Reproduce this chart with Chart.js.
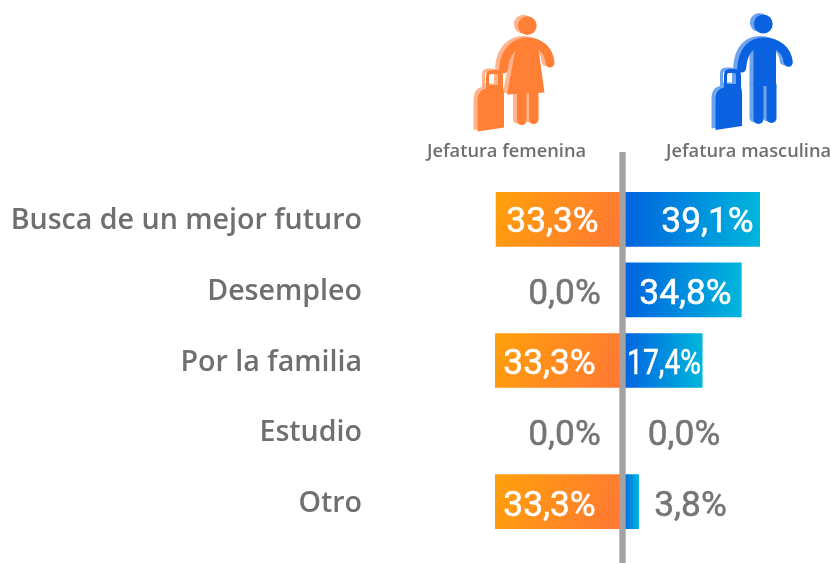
<!DOCTYPE html>
<html><head><meta charset="utf-8">
<script src="https://cdn.jsdelivr.net/npm/chart.js@4"></script>
<style>
html,body{margin:0;padding:0;background:#fff;width:831px;height:563px;overflow:hidden}
#wrap{position:relative;width:831px;height:563px}
canvas{position:absolute;left:0;top:0}
svg{position:absolute;left:0;top:0}
.head{position:absolute;font:600 18.25px "Open Sans",sans-serif;color:#6f6f6f;white-space:nowrap;line-height:20px}
</style></head><body>
<div id="wrap">
<canvas id="c" width="831" height="563"></canvas>
<svg width="831" height="163" viewBox="0 0 831 163">
<defs>
<g id="woman">
<circle cx="527.3" cy="25.7" r="9.4"/>
<path d="M503.5 69 C505 50 516 42 527 42 C540 42 549 50 550 63" fill="none" stroke="currentColor" stroke-width="9" stroke-linecap="round"/>
<path d="M516 46 L538 46 L544.5 92.5 L507 94.5 Z"/>
<rect x="517" y="90" width="9.5" height="35" rx="4.5"/>
<rect x="529" y="90" width="9.5" height="34" rx="4.5"/>
<path d="M477.5 100 Q478 90 486 88.5 L486 76 Q486 70 492 70 L497 70 Q503 70 503 76 L503 87 Q504 90 504 96 L504 127.5 L477.5 131.5 Z M489 85 L498 85 L498 76 Q498 74 496 74 L491 74 Q489 74 489 76 Z" fill-rule="evenodd"/>
</g>
<g id="man">
<circle cx="763.3" cy="24" r="9.4"/>
<path d="M741.7 68 C743 50 752 42 764 42 C777 42 787 50 788.3 62.3" fill="none" stroke="currentColor" stroke-width="9" stroke-linecap="round"/>
<rect x="753.5" y="44" width="22.5" height="42"/>
<rect x="753.5" y="80" width="10" height="44" rx="5"/>
<rect x="766.5" y="80" width="10" height="43" rx="5"/>
<path d="M715.5 98 Q716 89 724 87.5 L724 75 Q724 69 730 69 L735 69 Q741 69 741 75 L741 87 Q742 90 742 95 L742 126 L715.5 130 Z M727 84 L736 84 L736 75 Q736 73 734 73 L729 73 Q727 73 727 75 Z" fill-rule="evenodd"/>
</g>
</defs>
<use href="#woman" x="-4" y="-1.5" fill="#ffb48e" color="#ffb48e"/>
<use href="#woman" fill="#ff7f35" color="#ff7f35"/>
<use href="#man" x="-4" y="-1.5" fill="#6ea3ee" color="#6ea3ee"/>
<use href="#man" fill="#0b62e0" color="#0b62e0"/>
</svg>
<div class="head" style="left:427px;top:140px">Jefatura femenina</div>
<div class="head" style="left:666px;top:140px">Jefatura masculina</div>
</div>
<script>
const categories = ["Busca de un mejor futuro","Desempleo","Por la familia","Estudio","Otro"];
// Bar lengths (the source's bars are not proportional to its printed figures)
const femaleBars = [-33.1, 0, -33.3, 0, -33.3];
const maleBars = [35.9, 31.1, 20.9, 0, 4.3];
const femaleLabels = ["33,3%","0,0%","33,3%","0,0%","33,3%"];
const maleLabels = ["39,1%","34,8%","17,4%","0,0%","3,8%"];

// Label placement (px from the zero line / row centre), kept apart from the data
const femaleLabelX = [-70, -58, -73, -58, -73];
const maleLabelX = [85, 63, 41.5, 61.5, 68];
const labelDY = [3.5, 5, 5, 5, 5];
const maleLabelMaxW = [null, null, 74, null, null];

function barGradient(ctx, stops, diagonal){
  if (ctx.type !== 'data' || !ctx.chart.scales.x) return stops[0];
  const x = ctx.chart.scales.x, y = ctx.chart.scales.y;
  const x0 = x.getPixelForValue(0), x1 = x.getPixelForValue(ctx.raw);
  const cy = y.getPixelForValue(ctx.dataIndex);
  if (![x0,x1,cy].every(Number.isFinite)) return stops[0];
  const g = diagonal
    ? ctx.chart.ctx.createLinearGradient(x1, cy-27, x0, cy+27)
    : ctx.chart.ctx.createLinearGradient(x0, 0, x1, 0);
  g.addColorStop(0, stops[0]); g.addColorStop(1, stops[1]);
  return g;
}
function label(c, text, px, py, color, maxW){
  c.fillStyle = color; c.strokeStyle = color; c.lineWidth = 0.5;
  if (maxW) { c.fillText(text, px, py, maxW); c.strokeText(text, px, py, maxW); }
  else { c.fillText(text, px, py); c.strokeText(text, px, py); }
}
const overlay = {
  id:'overlay',
  afterDatasetsDraw(chart){
    const c = chart.ctx, x = chart.scales.x, y = chart.scales.y, x0 = x.getPixelForValue(0);
    c.save();
    c.fillStyle = '#a3a3a3';
    c.fillRect(x0-3.2, 152, 6.4, 411);
    c.font = '35.3px Roboto'; c.textAlign='center'; c.textBaseline='middle';
    categories.forEach((_, i)=>{
      const py = y.getPixelForValue(i)+labelDY[i];
      label(c, femaleLabels[i], x0+femaleLabelX[i], py, femaleBars[i]!==0 ? '#fff' : '#757575');
      label(c, maleLabels[i], x0+maleLabelX[i], py, maleBars[i]>=10 ? '#fff' : '#757575', maleLabelMaxW[i]);
    });
    c.restore();
  }
};
new Chart(document.getElementById('c'),{
  type:'bar',
  data:{labels:categories,datasets:[
    {label:'Jefatura femenina',data:femaleBars,backgroundColor:c=>barGradient(c,['#ffa00a','#ff7735'],true),borderWidth:0},
    {label:'Jefatura masculina',data:maleBars,backgroundColor:c=>barGradient(c,['#0062e0','#00b6dc'],false),borderWidth:0}
  ]},
  options:{
    indexAxis:'y',responsive:false,animation:false,
    layout:{padding:{top:184,bottom:26,left:0,right:0}},
    datasets:{bar:{barPercentage:0.775,categoryPercentage:1}},
    plugins:{legend:{display:false},tooltip:{enabled:false}},
    scales:{
      x:{stacked:true,display:false,min:-65.93,max:54.44},
      y:{stacked:true,
         afterFit(s){s.width=370;},
         border:{display:false},grid:{display:false,drawTicks:false},
         ticks:{padding:8,labelOffset:2,color:'#6f6f6f',font:{family:'"Open Sans"',weight:'600',size:28.6}}}
    }
  },
  plugins:[overlay]
});
</script>
</body></html>
